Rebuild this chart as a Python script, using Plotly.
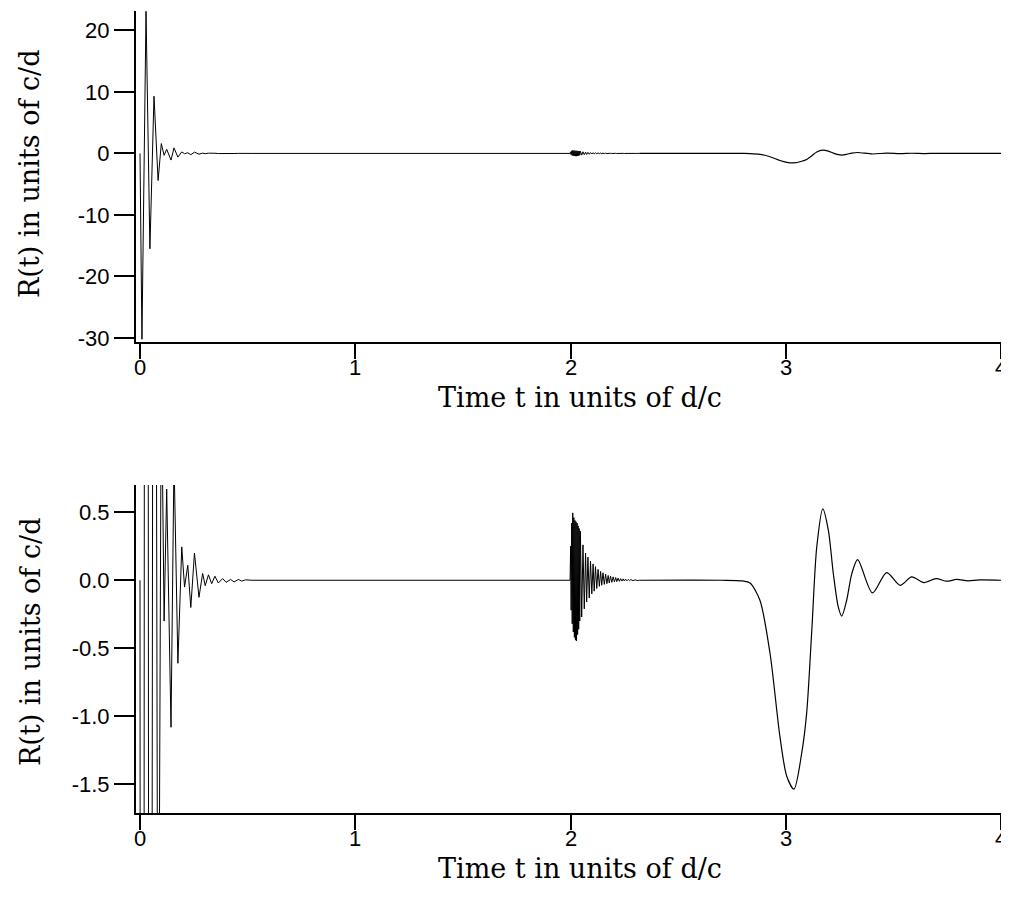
import plotly.graph_objects as go

# ---- data (time in units of d/c, R in units of c/d) ----
# early ringing near t = 0
early_t = [0.0, 0.009, 0.028, 0.046, 0.065, 0.084, 0.099, 0.112, 0.124, 0.144,
           0.158, 0.176, 0.194, 0.207, 0.222, 0.236, 0.253, 0.274, 0.291, 0.303,
           0.318, 0.333, 0.348, 0.364, 0.384, 0.400, 0.421, 0.437, 0.457, 0.472,
           0.490, 0.520, 1.998]
early_R = [0.0, -30.2, 23.1, -15.5, 9.3, -4.4, 1.6, -0.30, 0.67, -1.08,
           0.90, -0.61, 0.245, -0.05, 0.11, -0.20, 0.20, -0.125, 0.05, -0.04,
           0.04, -0.025, 0.03, -0.02, 0.012, -0.015, 0.006, -0.012, 0.006, -0.006,
           0.003, 0.0, 0.0]

# high-frequency burst near t = 2
burst_t = [2.0005, 2.003, 2.0055, 2.008, 2.0105, 2.013, 2.0155, 2.018, 2.0205, 2.023,
           2.0255, 2.028, 2.0305, 2.033, 2.0355, 2.038, 2.0405, 2.043, 2.046, 2.052,
           2.058, 2.064, 2.070, 2.075, 2.081, 2.087, 2.093, 2.099, 2.105, 2.110,
           2.116, 2.122, 2.128, 2.134, 2.140, 2.145, 2.151, 2.157, 2.163, 2.169,
           2.175, 2.180, 2.186, 2.192, 2.198, 2.204, 2.210, 2.215, 2.221, 2.227,
           2.233, 2.239, 2.245, 2.250, 2.256, 2.262, 2.268, 2.274, 2.280, 2.290,
           2.300, 2.310, 2.320]
burst_R = [0.25, -0.22, 0.42, -0.32, 0.495, -0.38, 0.46, -0.42, 0.44, -0.44,
           0.43, -0.445, 0.42, -0.40, 0.40, -0.36, 0.38, -0.30, 0.36, -0.27,
           0.26, -0.21, 0.20, -0.16, 0.17, -0.13, 0.14, -0.10, 0.12, -0.08,
           0.10, -0.06, 0.08, -0.045, 0.065, -0.037, 0.055, -0.03, 0.045, -0.025,
           0.035, -0.02, 0.03, -0.015, 0.025, -0.012, 0.02, -0.01, 0.016, -0.008,
           0.012, -0.006, 0.01, -0.005, 0.008, -0.004, 0.006, -0.003, 0.005, -0.003,
           0.003, -0.002, 0.0]

# smooth transient near t = 3
late_t = [2.320, 2.700, 2.800, 2.834, 2.880, 2.927, 2.973, 3.005, 3.038, 3.074,
          3.097, 3.121, 3.144, 3.172, 3.198, 3.221, 3.244, 3.260, 3.283, 3.307,
          3.334, 3.403, 3.469, 3.531, 3.585, 3.642, 3.698, 3.748, 3.794, 3.847,
          3.900, 4.000]
late_R = [0.0, 0.0, -0.005, -0.02, -0.147, -0.538, -1.149, -1.442, -1.535, -1.271,
          -0.978, -0.367, 0.244, 0.525, 0.367, 0.049, -0.196, -0.264, -0.147, 0.049,
          0.152, -0.093, 0.056, -0.037, 0.025, -0.017, 0.012, -0.007, 0.006, -0.004,
          0.003, 0.0]

x_tick_vals = [0, 1, 2, 3, 4]
x_tick_text = ["0", "1", "2", "3", "4"]
top_tick_vals = [20, 10, 0, -10, -20, -30]
top_tick_text = ["20", "10", "0", "-10", "-20", "-30"]
bot_tick_vals = [0.5, 0.0, -0.5, -1.0, -1.5]
bot_tick_text = ["0.5", "0.0", "-0.5", "-1.0", "-1.5"]

x_title = "Time t in units of d/c"
y_title = "R(t) in units of c/d"

fig = go.Figure()
lin_t = early_t + burst_t
lin_R = early_R + burst_R
for xa, ya in (("x", "y"), ("x2", "y2")):
    fig.add_trace(go.Scatter(x=lin_t, y=lin_R, mode="lines", xaxis=xa, yaxis=ya,
                             line=dict(color="black", width=1), showlegend=False,
                             hoverinfo="skip"))
    fig.add_trace(go.Scatter(x=late_t, y=late_R, mode="lines", xaxis=xa, yaxis=ya,
                             line=dict(color="black", width=1.2, shape="spline", smoothing=0.8),
                             showlegend=False, hoverinfo="skip"))

tick_font = dict(family="Liberation Sans, Arial, sans-serif", size=22, color="black")
title_font = dict(family="DejaVu Serif, serif", size=27, color="black")

common_x = dict(range=[-0.0186, 4.0], showline=True, linecolor="black", linewidth=2,
                ticks="outside", ticklen=15, tickwidth=2, tickcolor="black",
                tickvals=x_tick_vals, showticklabels=False,
                showgrid=False, zeroline=False, automargin=False)
common_y = dict(showline=True, linecolor="black", linewidth=2,
                ticks="outside", ticklen=20, tickwidth=2, tickcolor="black",
                tickfont=tick_font, showgrid=False, zeroline=False, automargin=False)

annotations = []
# x tick labels for both panels (placed just below the long ticks)
for xr, ypos in (("x", 0.5561), ("x2", -0.0312)):
    for v, s in zip(x_tick_vals, x_tick_text):
        annotations.append(dict(text=s, xref=xr, yref="paper", x=v, y=ypos,
                                showarrow=False, font=tick_font,
                                xanchor="center", yanchor="middle"))
annotations += [
    dict(text=x_title, xref="paper", yref="paper", x=0.5133, y=0.5187,
         showarrow=False, font=title_font, xanchor="center", yanchor="middle"),
    dict(text=x_title, xref="paper", yref="paper", x=0.5133, y=-0.0686,
         showarrow=False, font=title_font, xanchor="center", yanchor="middle"),
    dict(text=y_title, xref="paper", yref="paper", x=-0.1225, y=0.7968,
         showarrow=False, font=title_font, textangle=-90,
         xanchor="center", yanchor="middle"),
    dict(text=y_title, xref="paper", yref="paper", x=-0.1225, y=0.2132,
         showarrow=False, font=title_font, textangle=-90,
         xanchor="center", yanchor="middle"),
]

# the page body has an 8px margin; keep the figure inside the window (no scrolling)
fig.update_layout(
    width=1001, height=889,
    margin=dict(l=128, r=8, t=3, b=84, autoexpand=False),
    paper_bgcolor="white", plot_bgcolor="white",
    xaxis=dict(domain=[0, 1], anchor="y", **common_x),
    yaxis=dict(domain=[0.5873, 1.0], anchor="x", range=[-30.65, 23.15],
               tickvals=top_tick_vals, ticktext=top_tick_text, **common_y),
    xaxis2=dict(domain=[0, 1], anchor="y2", **common_x),
    yaxis2=dict(domain=[0.0, 0.409], anchor="x2", range=[-1.71, 0.70],
                tickvals=bot_tick_vals, ticktext=bot_tick_text, **common_y),
    annotations=annotations,
)

fig.write_html("out.html")
